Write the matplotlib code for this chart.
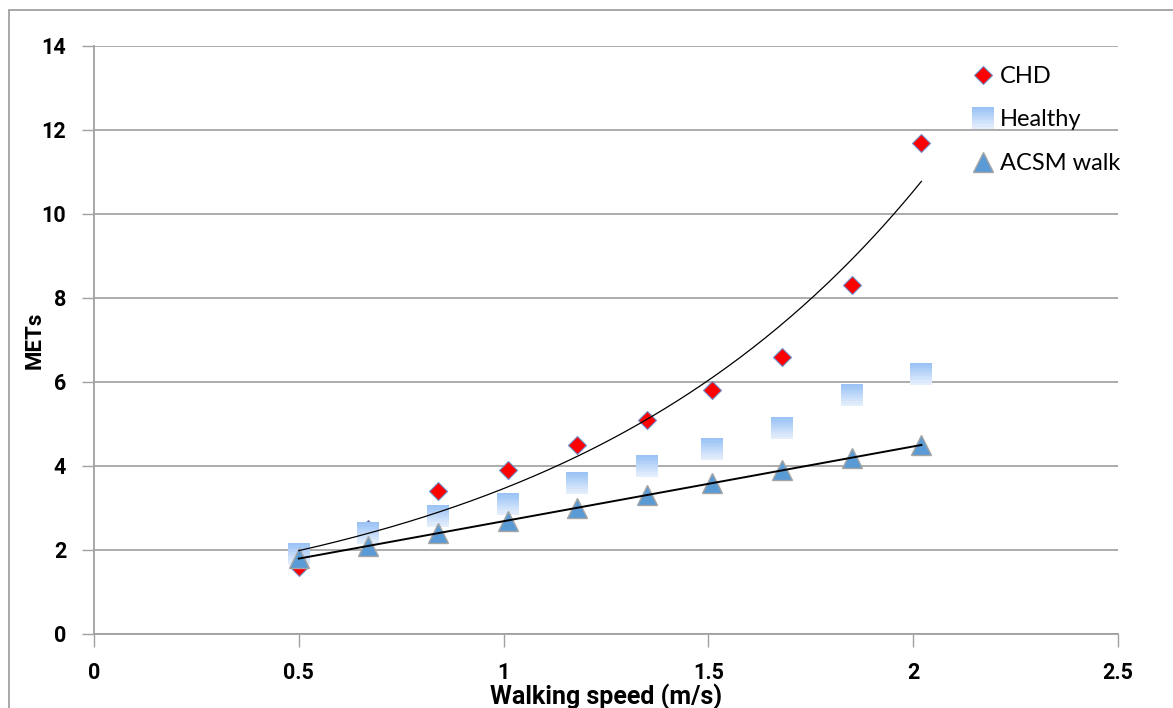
import numpy as np
import matplotlib.pyplot as plt
from matplotlib.path import Path
from matplotlib.lines import Line2D
from matplotlib.legend_handler import HandlerTuple
from matplotlib.patches import Rectangle

plt.rcParams['font.family'] = ['Lato', 'DejaVu Sans']
BOLD = ['Roboto', 'DejaVu Sans']

speed = [0.5, 0.67, 0.84, 1.01, 1.18, 1.35, 1.51, 1.68, 1.85, 2.02]
chd = [1.6, 2.5, 3.4, 3.9, 4.5, 5.1, 5.8, 6.6, 8.3, 11.7]
healthy = [1.9, 2.4, 2.8, 3.1, 3.6, 4.0, 4.4, 4.9, 5.7, 6.2]
acsm = [1.8, 2.1, 2.4, 2.7, 3.0, 3.3, 3.6, 3.9, 4.2, 4.5]

fig = plt.figure(figsize=(11.73, 7.08), dpi=100)
ax = fig.add_axes([94 / 1173, 1 - 634 / 708, 1024 / 1173, 588 / 708])

# frame round the whole chart area
fig.patches.append(Rectangle((9 / 1173, -0.1), 1.2, 1 - 10 / 708 + 0.1,
                             transform=fig.transFigure, fill=False,
                             edgecolor='#9a9a9a', linewidth=1.2))

x = np.array(speed)

# CHD diamonds
ax.plot(speed, chd, linestyle='none', marker='D', markersize=9.5,
        markerfacecolor='#ff0000', markeredgecolor='#6d8fc8',
        markeredgewidth=0.8, zorder=3)

# Healthy squares with a vertical gradient: nested rectangles that all
# reach the bottom edge, each drawn over the previous one
nstrip = 10
top_c = np.array([0x9c, 0xc3, 0xf5]) / 255
bot_c = np.array([0xe3, 0xee, 0xfc]) / 255
strip_handles = []
for i in range(nstrip):
    y1 = 0.5 - i / nstrip
    strip = Path([(-0.5, -0.5), (0.5, -0.5), (0.5, y1), (-0.5, y1), (-0.5, -0.5)],
                 [Path.MOVETO, Path.LINETO, Path.LINETO, Path.LINETO, Path.CLOSEPOLY])
    c = top_c + (bot_c - top_c) * i / (nstrip - 1)
    h, = ax.plot(speed, healthy, linestyle='none', marker=strip, markersize=15.5,
                 markerfacecolor=c, markeredgewidth=0, zorder=4)
    strip_handles.append(h)

# ACSM triangles
ax.plot(speed, acsm, linestyle='none', marker='^', markersize=14,
        markerfacecolor='#5b9bd5', markeredgecolor='#a5a5a5',
        markeredgewidth=1.0, zorder=5)

# trend lines: exponential for CHD, linear for ACSM
b, a = np.polyfit(x, np.log(chd), 1)
xs = np.linspace(x.min(), x.max(), 200)
ax.plot(xs, np.exp(a) * np.exp(b * xs), color='black', linewidth=0.9, zorder=6)
m, c0 = np.polyfit(x, acsm, 1)
ax.plot(xs, m * xs + c0, color='black', linewidth=1.4, zorder=6)

ax.set_xlim(0, 2.5)
ax.set_ylim(0, 14)
ax.set_xticks([0, 0.5, 1, 1.5, 2, 2.5])
ax.set_xticklabels(['0', '0.5', '1', '1.5', '2', '2.5'])
ax.set_yticks(range(0, 15, 2))
ax.yaxis.grid(True, color='#a6a6a6', linewidth=1.3)
ax.set_axisbelow(True)
for side in ['top', 'right']:
    ax.spines[side].set_visible(False)
for side in ['left', 'bottom']:
    ax.spines[side].set_color('#a0a0a0')
    ax.spines[side].set_linewidth(1.3)
ax.tick_params(axis='both', colors='#a0a0a0', labelcolor='black',
               length=9, width=1.0, labelsize=15.5)
ax.tick_params(axis='x', pad=11)
ax.tick_params(axis='y', pad=11)
for lbl in ax.get_xticklabels() + ax.get_yticklabels():
    lbl.set_fontweight('bold')
    lbl.set_family(BOLD)

ax.set_ylabel('METs', fontsize=16, fontweight='bold', family=BOLD, labelpad=-3)
ax.set_xlabel('Walking speed (m/s)', fontsize=18, fontweight='bold',
              family=BOLD, labelpad=0)

h_chd = Line2D([], [], linestyle='none', marker='D', markersize=9.5,
               markerfacecolor='#ff0000', markeredgecolor='#6d8fc8', markeredgewidth=0.8)
h_acsm = Line2D([], [], linestyle='none', marker='^', markersize=14,
                markerfacecolor='#5b9bd5', markeredgecolor='#a5a5a5', markeredgewidth=1.0)
ax.legend([h_chd, tuple(strip_handles), h_acsm], ['CHD', 'Healthy', 'ACSM walk'],
          handler_map={tuple: HandlerTuple(ndivide=1, pad=0)},
          loc='upper left', bbox_to_anchor=(0.85, 0.982), frameon=False,
          fontsize=17, labelspacing=0.95, handlelength=0.8, handletextpad=0.3,
          borderaxespad=0)

fig.savefig('out.png', dpi=100)
